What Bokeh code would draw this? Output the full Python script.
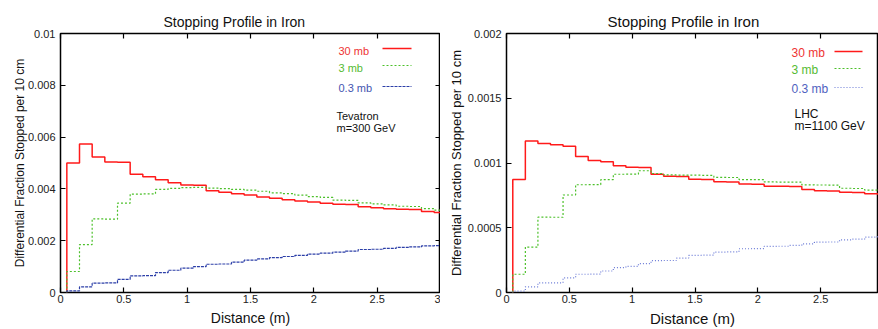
import numpy as np
from bokeh.plotting import figure
from bokeh.models import (FixedTicker, LinearAxis, Label, Arrow, Range1d, CustomJSTickFormatter)
from bokeh.layouts import row
from bokeh.embed import file_html
from bokeh.resources import INLINE

# ---------------- data (bin centres, 10 cm bins) ----------------
distance_m = [0.1, 0.2, 0.3, 0.4, 0.5, 0.6, 0.7, 0.8, 0.9, 1.0,
              1.1, 1.2, 1.3, 1.4, 1.5, 1.6, 1.7, 1.8, 1.9, 2.0,
              2.1, 2.2, 2.3, 2.4, 2.5, 2.6, 2.7, 2.8, 2.9, 3.0]
bin_width = 0.1

series_labels = ["30 mb", "3 mb", "0.3 mb"]

# Tevatron, m=300 GeV
tev_30mb = [0.00500, 0.00573, 0.00523, 0.00504, 0.00503, 0.00457, 0.00447, 0.00435, 0.00424, 0.00415,
            0.00414, 0.00393, 0.00387, 0.00381, 0.00376, 0.00369, 0.00364, 0.00358, 0.00353, 0.00349,
            0.00345, 0.00341, 0.00340, 0.00331, 0.00327, 0.00323, 0.00321, 0.00320, 0.00313, 0.00309]
tev_3mb = [0.00081, 0.00185, 0.00284, 0.00283, 0.00345, 0.00380, 0.00381, 0.00398, 0.00402, 0.00405,
           0.00406, 0.00403, 0.00401, 0.00398, 0.00395, 0.00391, 0.00385, 0.00382, 0.00376, 0.00370,
           0.00367, 0.00357, 0.00356, 0.00346, 0.00342, 0.00338, 0.00333, 0.00332, 0.00324, 0.00318]
tev_03mb = [0.00006, 0.00022, 0.00036, 0.00037, 0.00051, 0.00064, 0.00065, 0.00077, 0.00086, 0.00094,
            0.00100, 0.00109, 0.00110, 0.00117, 0.00125, 0.00130, 0.00135, 0.00139, 0.00143, 0.00148,
            0.00152, 0.00156, 0.00160, 0.00166, 0.00167, 0.00170, 0.00174, 0.00176, 0.00180, 0.00181]

# LHC, m=1100 GeV
lhc_30mb = [0.000873, 0.00117, 0.00115, 0.00114, 0.00113, 0.00105, 0.00102, 0.00101, 0.000978, 0.000968,
            0.000966, 0.000914, 0.000898, 0.000895, 0.000875, 0.000872, 0.000856, 0.000854, 0.000838, 0.000836,
            0.000821, 0.000820, 0.000819, 0.000796, 0.000785, 0.000783, 0.000774, 0.000772, 0.000763, 0.000760]
lhc_3mb = [0.000141, 0.000351, 0.000582, 0.000581, 0.000753, 0.000832, 0.000833, 0.000871, 0.000913, 0.000914,
           0.000940, 0.000919, 0.000908, 0.000907, 0.000906, 0.000905, 0.000889, 0.000888, 0.000872, 0.000871,
           0.000854, 0.000853, 0.000852, 0.000831, 0.000830, 0.000829, 0.000805, 0.000803, 0.000791, 0.000788]
lhc_03mb = [0.000010, 0.000044, 0.000074, 0.000075, 0.000113, 0.000141, 0.000142, 0.000166, 0.000192, 0.000202,
            0.000223, 0.000246, 0.000247, 0.000266, 0.000287, 0.000288, 0.000312, 0.000313, 0.000338, 0.000339,
            0.000356, 0.000357, 0.000364, 0.000376, 0.000389, 0.000390, 0.000407, 0.000412, 0.000428, 0.000430]

x_ticks = [0, 0.5, 1, 1.5, 2, 2.5, 3]
tev_y_ticks = [0, 0.002, 0.004, 0.006, 0.008, 0.01]
lhc_y_ticks = [0, 0.0005, 0.001, 0.0015, 0.002]

FONT = "Liberation Sans"


def step_xy(centers, values):
    c = np.asarray(centers, dtype=float)
    v = np.asarray(values, dtype=float)
    left = c - bin_width / 2
    right = c + bin_width / 2
    xs = np.empty(2 * len(c) + 1)
    ys = np.empty(2 * len(c) + 1)
    xs[0] = left[0]
    ys[0] = 0.0
    xs[1::2] = left
    xs[2::2] = right
    ys[1::2] = v
    ys[2::2] = v
    return xs, ys


def mirror_axis(ticks):
    return LinearAxis(ticker=FixedTicker(ticks=ticks), major_tick_in=5, major_tick_out=0,
                      major_tick_line_width=1.2, minor_tick_line_color=None, axis_line_color=None,
                      formatter=CustomJSTickFormatter(code="return '';"),
                      major_label_standoff=0)


def make_panel(title, values, y_ticks, y_max, x_end, width, border_left, styles,
               label_font, title_font, tick_font, xlabel_font, ylabel_standoff,
               title_offset, key, note_lines, note_pos, mirror_right):
    p = figure(width=width, height=329, output_backend="svg", toolbar_location=None,
               x_range=Range1d(0, x_end), y_range=Range1d(0, y_max),
               min_border_left=border_left, min_border_right=0,
               min_border_top=33, min_border_bottom=37)
    p.title.text = title
    p.title.align = "left"
    p.title.offset = title_offset
    p.title.text_font = FONT
    p.title.text_font_size = title_font
    p.title.text_font_style = "normal"
    p.title.text_color = "#111111"
    p.title.standoff = 8

    p.xgrid.visible = False
    p.ygrid.visible = False
    p.outline_line_color = "black"
    p.outline_line_width = 1.5
    p.outline_line_alpha = 1.0
    p.background_fill_color = "white"
    p.border_fill_color = "white"

    fmt = CustomJSTickFormatter(code="return String(tick);")
    for ax, ticks in ((p.xaxis[0], x_ticks), (p.yaxis[0], y_ticks)):
        ax.ticker = FixedTicker(ticks=ticks)
        ax.formatter = fmt
        ax.major_tick_in = 5
        ax.major_tick_out = 0
        ax.major_tick_line_width = 1.2
        ax.minor_tick_line_color = None
        ax.axis_line_color = None
        ax.major_label_text_font = FONT
        ax.major_label_text_font_size = tick_font
        ax.major_label_text_color = "#222222"
        ax.axis_label_text_font = FONT
        ax.axis_label_text_font_style = "normal"
        ax.axis_label_text_color = "#111111"
    p.xaxis.major_label_standoff = 2
    p.yaxis.major_label_standoff = 5
    p.xaxis.axis_label = "Distance (m)"
    p.xaxis.axis_label_text_font_size = xlabel_font
    p.xaxis.axis_label_standoff = 4
    p.yaxis.axis_label = "Differential Fraction Stopped per 10 cm"
    p.yaxis.axis_label_text_font_size = label_font
    p.yaxis.axis_label_standoff = ylabel_standoff

    # mirrored ticks (gnuplot style)
    p.add_layout(mirror_axis(x_ticks), "above")
    if mirror_right:
        p.add_layout(mirror_axis(y_ticks), "right")

    for vals, st in zip(values, styles):
        xs, ys = step_xy(distance_m, vals)
        p.line(xs, ys, line_color=st["color"], line_width=st["width"], line_dash=st["dash"])

    # key: coloured text on the left, line sample on the right (screen px within frame)
    lx0, lx1, line_ys, tx, text_ys = key
    for lab, st, ly, ty in zip(series_labels, styles, line_ys, text_ys):
        p.add_layout(Arrow(x_start=lx0, y_start=ly, x_end=lx1, y_end=ly,
                           start_units="screen", end_units="screen", start=None, end=None,
                           line_color=st["color"], line_width=st["width"], line_dash=st["dash"]))
        p.add_layout(Label(x=tx, y=ty, x_units="screen", y_units="screen", text=lab,
                           text_align="left", text_baseline="middle", text_font=FONT,
                           text_font_size=st["font"], text_color=st["text"]))

    nx, ny = note_pos
    for i, line in enumerate(note_lines):
        p.add_layout(Label(x=nx, y=ny - 12.5 * i, x_units="screen", y_units="screen", text=line,
                           text_align="left", text_baseline="middle", text_font=FONT,
                           text_font_size=styles[0]["font"], text_color="#111111"))
    return p


tev_styles = [
    dict(color="#ff1a1a", width=1.5, dash="solid", text="#ee3333", font="11px"),
    dict(color="#4cc02a", width=1.2, dash="2 2", text="#55bb33", font="11px"),
    dict(color="#2c3fa8", width=1.2, dash="3 1", text="#4455b0", font="11px"),
]
lhc_styles = [
    dict(color="#ff1a1a", width=1.5, dash="solid", text="#ee3333", font="12px"),
    dict(color="#4cc02a", width=1.2, dash="2 2", text="#55bb33", font="12px"),
    dict(color="#6a7ad6", width=1.2, dash="1 2", text="#4f62c0", font="12px"),
]

# left frame: page x 60..440, y 33..292 ; right frame: x 506..878
p1 = make_panel("Stopping Profile in Iron", [tev_30mb, tev_3mb, tev_03mb], tev_y_ticks, 0.01, 3.0,
                440, 60, tev_styles, "12px", "14px", "11px", "14px", -2,
                103, (322, 351, [244, 227, 206], 278, [242, 225, 205]),
                ["Tevatron", "m=300 GeV"], (276, 177), True)
p2 = make_panel("Stopping Profile in Iron", [lhc_30mb, lhc_3mb, lhc_03mb], lhc_y_ticks, 0.002, 2.96,
                438, 66, lhc_styles, "13px", "15px", "11px", "15px", 1,
                101, (328, 356, [241, 224, 205], 285, [240, 223, 204]),
                ["LHC", "m=1100 GeV"], (288, 179), False)

layout = row(p1, p2, spacing=0)
open("out.html", "w").write(file_html(layout, INLINE))
